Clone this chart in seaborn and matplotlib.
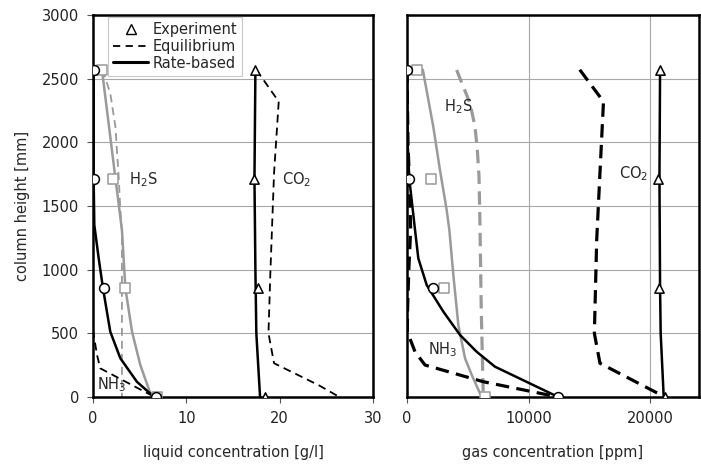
import numpy as np
import pandas as pd
import matplotlib
matplotlib.use('Agg')
import matplotlib.pyplot as plt
from matplotlib.lines import Line2D
import seaborn as sns

# experiment heights [mm]
exp_h = [2570, 1710, 855, 0]

# ---- liquid side [g/l]
liq_nh3_exp = [0.1, 0.1, 1.2, 6.7]
liq_h2s_exp = [0.95, 2.15, 3.4, 6.9]
liq_co2_exp = [17.4, 17.3, 17.7, 18.4]

liq_nh3_rate_h = [2570, 1700, 1351, 1089, 854, 513, 304, 120, 16, 0]
liq_nh3_rate = [0.07, 0.07, 0.14, 0.61, 1.07, 1.85, 2.93, 4.7, 6.3, 6.7]
liq_h2s_rate_h = [2570, 1731, 1312, 854, 513, 251, 29, 0]
liq_h2s_rate = [0.96, 2.38, 3.1, 3.47, 4.18, 5.07, 6.14, 6.8]
liq_co2_rate_h = [2570, 1710, 1000, 500, 0]
liq_co2_rate = [17.4, 17.3, 17.4, 17.5, 17.9]

liq_nh3_eq_h = [2570, 520, 460, 330, 225, 0]
liq_nh3_eq = [0.0, 0.0, 0.14, 0.43, 0.78, 6.6]
liq_h2s_eq_h = [2570, 2543, 2385, 2123, 1730, 1469, 1300, 0]
liq_h2s_eq = [1.0, 1.15, 1.85, 2.4, 2.75, 2.93, 3.1, 3.1]
liq_co2_eq_h = [2570, 2320, 1760, 970, 500, 265, 92, 0]
liq_co2_eq = [17.5, 19.9, 19.4, 19.0, 18.8, 19.4, 24.2, 26.4]

# ---- gas side [ppm]
gas_nh3_exp = [0, 190, 2110, 12430]
gas_h2s_exp = [800, 1950, 3040, 6430]
gas_co2_exp = [20800, 20600, 20740, 21200]

gas_nh3_rate_h = [2570, 2000, 1710, 1312, 1089, 879, 670, 487, 355, 238, 0]
gas_nh3_rate = [0, 50, 190, 660, 930, 1620, 2990, 4360, 5730, 7230, 12430]
gas_h2s_rate_h = [2570, 2123, 1782, 1469, 1312, 958, 565, 304, 173, 29, 0]
gas_h2s_rate = [1300, 2160, 2710, 3260, 3480, 3810, 4220, 4770, 5320, 6000, 6350]
gas_co2_rate_h = [2570, 1710, 855, 500, 0]
gas_co2_rate = [20800, 20750, 20800, 20850, 21100]

gas_nh3_eq_h = [2570, 2000, 1710, 1312, 1000, 700, 513, 355, 251, 120, 0]
gas_nh3_eq = [0, 80, 190, 300, 150, 50, 25, 660, 1480, 6270, 12430]
gas_h2s_eq_h = [2568, 2437, 2306, 2123, 1940, 1730, 1338, 700, 0]
gas_h2s_eq = [4080, 4630, 5180, 5590, 5780, 5920, 6000, 6100, 6270]
gas_co2_eq_h = [2570, 2320, 1760, 1230, 500, 265, 0]
gas_co2_eq = [14200, 16150, 15860, 15590, 15400, 15860, 21200]

sns.set_theme(style='white')
plt.rcParams['font.family'] = ['DejaVu Sans']
plt.rcParams['mathtext.default'] = 'regular'
plt.rcParams['font.size'] = 10.5

GRAY = '#9a9a9a'
THIN_DASH = (0, (4.4, 2.8))
THICK_DASH = (0, (4.2, 2.3))

fig = plt.figure(figsize=(7.01, 4.68), dpi=100)
ax1 = fig.add_axes([93/701, 1-397/468, 280/701, 382/468])
ax2 = fig.add_axes([407/701, 1-397/468, 292/701, 382/468])


def line(ax, x, y, **kw):
    sns.lineplot(x=x, y=y, ax=ax, sort=False, estimator=None, legend=False, **kw)


def pts(ax, x, y, marker, ec, s):
    sns.scatterplot(x=x, y=y, ax=ax, marker=marker, s=s, facecolor='white',
                    edgecolor=ec, linewidth=1.1, zorder=5, legend=False)


# left panel - liquid
line(ax1, liq_h2s_eq, liq_h2s_eq_h, color=GRAY, lw=1.3, linestyle=THIN_DASH)
line(ax1, liq_nh3_eq, liq_nh3_eq_h, color='black', lw=1.3, linestyle=THIN_DASH)
line(ax1, liq_co2_eq, liq_co2_eq_h, color='black', lw=1.3, linestyle=THIN_DASH)
line(ax1, liq_h2s_rate, liq_h2s_rate_h, color=GRAY, lw=1.8)
line(ax1, liq_nh3_rate, liq_nh3_rate_h, color='black', lw=1.8)
line(ax1, liq_co2_rate, liq_co2_rate_h, color='black', lw=1.8)
pts(ax1, liq_h2s_exp, exp_h, 's', GRAY, 45)
pts(ax1, liq_nh3_exp, exp_h, 'o', 'black', 50)
pts(ax1, liq_co2_exp, exp_h, '^', 'black', 45)

# right panel - gas
line(ax2, gas_h2s_eq, gas_h2s_eq_h, color=GRAY, lw=2.3, linestyle=THICK_DASH)
line(ax2, gas_nh3_eq, gas_nh3_eq_h, color='black', lw=2.3, linestyle=THICK_DASH)
line(ax2, gas_co2_eq, gas_co2_eq_h, color='black', lw=2.3, linestyle=THICK_DASH)
line(ax2, gas_h2s_rate, gas_h2s_rate_h, color=GRAY, lw=1.8)
line(ax2, gas_nh3_rate, gas_nh3_rate_h, color='black', lw=1.8)
line(ax2, gas_co2_rate, gas_co2_rate_h, color='black', lw=1.8)
pts(ax2, gas_h2s_exp, exp_h, 's', GRAY, 45)
pts(ax2, gas_nh3_exp, exp_h, 'o', 'black', 50)
pts(ax2, gas_co2_exp, exp_h, '^', 'black', 45)

# species labels
ax1.text(3.9, 1710, 'H$_2$S', va='center', ha='left', fontsize=10.5)
ax1.text(20.2, 1710, 'CO$_2$', va='center', ha='left', fontsize=10.5)
ax1.text(0.4, 94, 'NH$_3$', va='center', ha='left', fontsize=10.5)
ax2.text(3000, 2280, 'H$_2$S', va='center', ha='left', fontsize=10.5)
ax2.text(17400, 1757, 'CO$_2$', va='center', ha='left', fontsize=10.5)
ax2.text(1750, 369, 'NH$_3$', va='center', ha='left', fontsize=10.5)

for ax in (ax1, ax2):
    ax.set_ylim(0, 3000)
    ax.set_yticks(np.arange(0, 3001, 500))
    ax.yaxis.grid(True, color='#a8a8a8', lw=0.8)
    ax.set_axisbelow(True)
    for sp in ax.spines.values():
        sp.set_color('black')
        sp.set_linewidth(1.8)
    ax.tick_params(axis='both', direction='out', length=4, width=0.8,
                   colors='#555555', labelcolor='#222222', labelsize=10.5,
                   bottom=True, left=True, pad=6)

ax1.set_xlim(0, 30)
ax1.set_xticks([0, 10, 20, 30])
ax1.set_xlabel('liquid concentration [g/l]', fontsize=10.5, labelpad=14)
ax1.set_ylabel('column height [mm]', fontsize=10.5, labelpad=8)

ax2.set_xlim(0, 24000)
ax2.set_xticks([0, 10000, 20000])
ax2.xaxis.grid(True, color='#a8a8a8', lw=0.8)
ax2.set_yticklabels([])
ax2.tick_params(axis='y', length=0)
ax2.set_xlabel('gas concentration [ppm]', fontsize=10.5, labelpad=14)
ax2.set_ylabel('')

handles = [
    Line2D([], [], color='black', marker='^', markerfacecolor='white',
           linestyle='none', markersize=6.5),
    Line2D([], [], color='black', lw=1.3, linestyle=(0, (4, 3))),
    Line2D([], [], color='black', lw=2.2),
]
leg = ax1.legend(handles, ['Experiment', 'Equilibrium', 'Rate-based'],
                 loc='upper left', bbox_to_anchor=(0.054, 0.995), fontsize=10.5,
                 frameon=True, fancybox=False, framealpha=1, edgecolor='#c8c8c8',
                 handlelength=2.4, handletextpad=0.3, borderpad=0.35,
                 labelspacing=0.12, borderaxespad=0)
leg.get_frame().set_linewidth(0.8)

fig.savefig('out.png', dpi=100)
